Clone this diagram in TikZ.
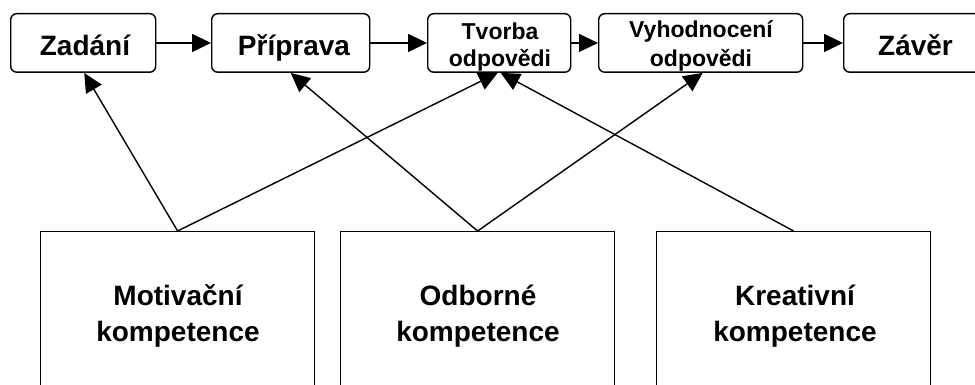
\documentclass[tikz,border=0pt]{standalone}
\usepackage{fontspec}
\setmainfont{Liberation Sans}
\usetikzlibrary{arrows.meta}
\begin{document}
\begin{tikzpicture}[x=1pt,y=-1pt,
  stage/.style={draw, line width=1.4pt, rounded corners=6pt,
    minimum height=58.5pt, inner sep=0pt, anchor=north west},
  area/.style={draw, line width=1.2pt, minimum height=200pt,
    minimum width=274pt, inner sep=0pt, anchor=north west},
  big/.style={font=\fontsize{28}{34}\selectfont\bfseries, inner sep=0pt, anchor=base},
  small/.style={font=\fontsize{23}{27}\selectfont\bfseries, inner sep=0pt, anchor=base},
  link/.style={line width=1.4pt, -{Triangle[length=19pt,width=18pt]}}
]
\useasboundingbox (0,0) rectangle (975,385);
\clip (0,0) rectangle (975,385);

% process stages
\node[stage, minimum width=145pt] (zad) at (10,13) {};
\node[stage, minimum width=158pt] (pri) at (211,13) {};
\node[stage, minimum width=143pt] (tvo) at (427,13) {};
\node[stage, minimum width=204pt] (vyh) at (598,13) {};
\node[stage, minimum width=144pt] (zav) at (843,13) {};

\node[big] (zadT) at (85,56) {Zadání};
\node[big] (priT) at (294,56) {Příprava};
\node[small] (tvoT1) at (500,40) {Tvorba};
\node[small] (tvoT2) at (500,67) {odpovědi};
\node[small] (vyhT1) at (701,38) {Vyhodnocení};
\node[small] (vyhT2) at (701,67) {odpovědi};
\node[big] (zavT) at (915.5,56) {Závěr};

% competences
\node[area] (mot) at (40,231) {};
\node[area] (odb) at (340,231) {};
\node[area] (kre) at (656,231) {};

\node[big] (motT1) at (178,305) {Motivační};
\node[big] (motT2) at (178,341) {kompetence};
\node[big] (odbT1) at (478,305) {Odborné};
\node[big] (odbT2) at (478,341) {kompetence};
\node[big] (kreT1) at (795,305) {Kreativní};
\node[big] (kreT2) at (795,341) {kompetence};

% sequence of stages
\draw[link] (zad.east) -- (pri.west);
\draw[link] (pri.east) -- (tvo.west);
\draw[link] (tvo.east) -- (vyh.west);
\draw[link] (vyh.east) -- (zav.west);

% competences feeding the stages
\draw[link] (mot.north) -- ([xshift=1pt]zad.south);
\draw[link] (mot.north) -- ([xshift=-1.5pt]tvo.south);
\draw[link] (odb.north) -- (pri.south);
\draw[link] (odb.north) -- ([xshift=2pt]vyh.south);
\draw[link] (kre.north) -- ([xshift=1.5pt]tvo.south);
\end{tikzpicture}
\end{document}
